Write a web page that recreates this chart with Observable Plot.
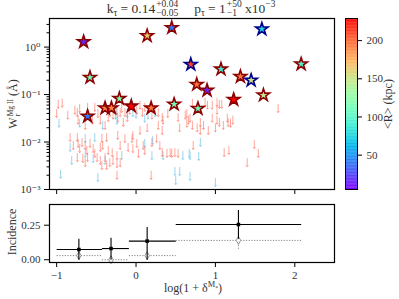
<!DOCTYPE html>
<html><head><meta charset="utf-8">
<script src="https://cdn.jsdelivr.net/npm/d3@7"></script>
<script src="https://cdn.jsdelivr.net/npm/@observablehq/plot@0.6"></script>
<style>
body{margin:0;background:#fff;}
#wrap{position:relative;width:399px;height:299px;overflow:hidden;font-family:"Liberation Serif","DejaVu Serif",serif;color:#333;}
.abs{position:absolute;}
.ss{display:inline-flex;flex-direction:column;font-size:9.5px;line-height:0.95;vertical-align:middle;margin-left:1px;}
.rot{transform:translate(-50%,-50%) rotate(-90deg);white-space:nowrap;}
sup,sub{font-size:70%;}
</style></head>
<body><div id="wrap">
<div class="abs" style="left:191px;top:-1px;transform:translateX(-50%);white-space:nowrap;font-size:13.5px;">k<sub>τ</sub> = 0.14<span class="ss"><span>+0.04</span><span>−0.05</span></span><span style="display:inline-block;width:16px"></span>p<sub>τ</sub> = 1<span class="ss"><span>+50</span><span>−1</span></span> x10<sup>−3</sup></div>
<div class="abs rot" style="left:14px;top:104px;font-size:12px;">W<span class="ss" style="font-size:7.5px"><span>Mg II</span><span>r</span></span> (Å)</div>
<div class="abs rot" style="left:12px;top:232px;font-size:12px;">Incidence</div>
<div class="abs rot" style="left:388px;top:104px;font-size:12px;">&lt;R&gt; (kpc)</div>
<div class="abs" style="left:193px;top:280px;transform:translateX(-50%);white-space:nowrap;font-size:12px;">log(1 + δ<sup>M<sub>*</sub></sup>)</div>
</div>
<script>
// detections (stars)
const starX = [-0.66, 0.14, 0.45, 0.69, 1.585, 1.07, 2.08, 1.315, 1.45, 0.765, 0.895, 1.23, 1.605, -0.58, -0.21, -0.39, -0.31, -0.06, 0.19, 0.48, -0.61, 0.78];
const starW = [1.29, 1.73, 2.56, 0.43, 2.40, 0.343, 0.44, 0.24, 0.20, 0.163, 0.123, 0.0785, 0.097, 0.229, 0.082, 0.052, 0.052, 0.057, 0.052, 0.0625, 0.0348, 0.0507];
const starR = [15, 165, 40, 210, 75, 90, 95, 195, 150, 195, 15, 228, 145, 110, 115, 190, 190, 228, 195, 110, 40, 110];
const starGroup = ["a","a","a","b","b","a","a","a","b","a","a","a","a","a","a","a","a","a","a","a","a","a"];
// upper limits, red sample
const redX = [-0.98,-0.93,-1.00,-0.86,-0.77,-0.74,-0.71,-0.61,-0.52,-0.55,-0.48,-0.45,-0.24,-0.20,-0.18,-0.14,0.01,0.05,0.08,0.11,0.20,0.28,0.33,0.34,0.40,0.53,0.55,0.62,0.66,-0.73,-0.64,-0.39,-0.16,0.05,-0.04,0.14,0.28,0.33,-0.33,-0.29,-0.11,-0.08,-0.23,-0.35,
 -0.83,-0.74,-0.73,-0.68,-0.79,-0.71,-0.64,-0.58,-0.62,-0.54,-0.52,-0.43,-0.42,-0.45,-0.37,-0.35,-0.30,-0.24,-0.23,-0.20,-0.14,-0.10,-0.05,-0.04,0.01,0.03,0.09,0.11,0.20,0.26,0.30,0.33,0.39,0.43,0.45,0.49,0.53,-0.74,-0.67,-0.64,-0.61,-0.49,-0.45,-0.39,-0.33,-0.29,-0.24,-0.20,-0.43,-0.37,-0.24,0.19,
 0.71,0.77,0.87,0.90,0.96,1.02,1.05,1.08,1.02,0.64,0.68,0.64,0.71,0.77,0.81,0.81,0.85,0.91,0.96,1.00,1.02,1.05,1.10,1.15,1.16,1.19,1.22,1.79,0.72,1.11,1.17,1.49,1.54,1.40];
const redW = [0.0625,0.066,0.040,0.037,0.047,0.042,0.051,0.054,0.054,0.029,0.040,0.029,0.047,0.042,0.051,0.042,0.047,0.060,0.042,0.054,0.037,0.042,0.033,0.029,0.040,0.033,0.020,0.037,0.029,0.029,0.0225,0.0225,0.026,0.0176,0.0138,0.020,0.0225,0.0176,0.042,0.037,0.033,0.047,0.032,0.033,
 0.0125,0.0125,0.0094,0.0098,0.0085,0.0073,0.0085,0.0094,0.0067,0.0073,0.0058,0.0119,0.0085,0.0077,0.0125,0.0067,0.0060,0.0052,0.0138,0.0085,0.0119,0.0077,0.0119,0.0073,0.0094,0.0058,0.0085,0.0067,0.0098,0.0119,0.0085,0.0060,0.0058,0.0060,0.0058,0.0060,0.0058,0.0047,0.0045,0.0037,0.0047,0.0047,0.0041,0.0047,0.0037,0.0041,0.0035,0.0037,0.0032,0.0032,0.0020,0.0020,
 0.066,0.054,0.069,0.060,0.060,0.069,0.0625,0.0625,0.047,0.040,0.032,0.025,0.0225,0.020,0.026,0.0176,0.0225,0.0176,0.032,0.020,0.029,0.026,0.0225,0.032,0.026,0.025,0.029,0.051,0.0085,0.0060,0.0067,0.0089,0.0058,0.0037];
// upper limits, blue sample
const blueX = [-0.97,-0.71,-0.42,-0.26,-0.24,-0.25,-0.11,-0.04,0.00,0.11,0.15,0.24,-0.83,-0.64,-0.52,-0.64,-0.81,-0.54,-0.39,-0.18,0.11,0.20,0.21,0.34,0.59,0.68,-0.95,-0.48,0.49,0.55,0.50,0.81,0.67,0.79,0.68,1.00];
const blueW = [0.025,0.025,0.0225,0.037,0.029,0.047,0.040,0.042,0.039,0.032,0.037,0.042,0.0077,0.0119,0.0125,0.0058,0.0041,0.0045,0.0041,0.0052,0.0094,0.0052,0.0108,0.0052,0.0052,0.0052,0.0021,0.0018,0.0024,0.0024,0.00155,0.0098,0.0058,0.0050,0.0019,0.0014];
// incidence panel
const incX = [-0.72, -0.315, 0.14, 1.29];
const incXlo = [-1.0, -0.43, -0.09, 0.5];
const incXhi = [-0.43, -0.09, 0.5, 2.08];
const incY = [0.074, 0.081, 0.135, 0.255];
const incYlo = [0.0, 0.0, 0.0, 0.152];
const incYhi = [0.152, 0.16, 0.237, 0.36];
const grayY = [0.03, 0.0, 0.03, 0.14];
const grayYlo = [0.007, 0.0, 0.007, 0.079];
const grayYhi = [0.05, 0.0, 0.05, 0.18];
// ticks
const xTicks = [-1, 0, 1, 2];
const xTickLabels = ["−1", "0", "1", "2"];
const yTicks = [1e-3, 1e-2, 1e-1, 1];
const yTickLabels = ["10⁻³", "10⁻²", "10⁻¹", "10⁰"];
const cbTicks = [50, 100, 150, 200];
const incTicks = [0, 0.25];

const rainbow = t => {
  const r = Math.min(1, Math.abs(2*t - 0.5)), g = Math.sin(Math.PI*t), b = Math.cos(Math.PI*t/2);
  return d3.rgb(255*r, 255*Math.max(0,g), 255*Math.max(0,b)).formatHex();
};
const cdom = [5, 229];
const font = "'Liberation Serif','DejaVu Serif',serif";
const stars = starX.map((x,i)=>({x, w:starW[i], R:starR[i], g:starGroup[i]}));
const reds = redX.map((x,i)=>({x, w:redW[i]}));
const blues = blueX.map((x,i)=>({x, w:blueW[i]}));
const minor = [];
for (const d of [1e-3,1e-2,1e-1,1]) for (let k=2;k<=9;k++) if (d*k<4) minor.push(d*k);

const style = {fontFamily: font, fontSize: "11px", color: "#333", background: "transparent", overflow: "visible"};
const topPlot = Plot.plot({
  width: 340, height: 200, marginLeft: 49, marginRight: 6, marginTop: 18, marginBottom: 11,
  style,
  x: {domain: [-1.09, 2.5]},
  y: {type: "log", domain: [1e-3, 4]},
  color: {type: "linear", domain: cdom, interpolate: rainbow},
  marks: [
    Plot.axisX({ticks: xTicks, tickFormat: () => "", tickSize: 5, label: null, stroke: "black"}),
    Plot.axisY({ticks: yTicks, tickFormat: d => yTickLabels[yTicks.indexOf(d)], tickSize: 5, label: null, stroke: "black", fontSize: 11}),
    Plot.axisY({ticks: minor, tickFormat: () => "", tickSize: 2.5, label: null, stroke: "black"}),
    Plot.vector(blues, {x: "x", y: "w", rotate: 180, length: 8, anchor: "middle", r: 2.2, stroke: "#87ceeb", strokeOpacity: 0.85, strokeWidth: 1}),
    Plot.vector(reds, {x: "x", y: "w", rotate: 180, length: 8, anchor: "middle", r: 2.2, stroke: "#ff6a5a", strokeOpacity: 0.6, strokeWidth: 1}),
    Plot.dot(stars.filter(d=>d.g==="a"), {x: "x", y: "w", fill: "R", stroke: "#8b0000", symbol: "star", r: 3.9, strokeWidth: 1.6}),
    Plot.dot(stars.filter(d=>d.g==="b"), {x: "x", y: "w", fill: "R", stroke: "#00008b", symbol: "star", r: 3.9, strokeWidth: 1.6}),
    Plot.frame({stroke: "black", strokeWidth: 1.2})
  ]
});
topPlot.style.position = "absolute"; topPlot.style.left = "0px"; topPlot.style.top = "0px";

const cbVals = d3.range(cdom[0], cdom[1], 1);
const cb = Plot.plot({
  width: 54, height: 200, marginLeft: 0, marginRight: 42, marginTop: 18, marginBottom: 11,
  style,
  x: {domain: [0, 1], axis: null},
  y: {domain: cdom},
  color: {type: "linear", domain: cdom, interpolate: rainbow},
  marks: [
    Plot.rect(cbVals, {x1: 0, x2: 1, y1: d => d, y2: d => Math.min(cdom[1], d + 1.3), fill: d => d + 0.5}),
    Plot.axisY({anchor: "right", ticks: cbTicks, tickSize: 4, label: null, stroke: "black", fontSize: 11}),
    Plot.frame({stroke: "black", strokeWidth: 1})
  ]
});
cb.style.position = "absolute"; cb.style.left = "345px"; cb.style.top = "0px";

const inc = incX.map((x,i)=>({x, lo: incXlo[i], hi: incXhi[i], y: incY[i], ylo: incYlo[i], yhi: incYhi[i], g: grayY[i], glo: grayYlo[i], ghi: grayYhi[i]}));
const bot = Plot.plot({
  width: 340, height: 104, marginLeft: 49, marginRight: 6, marginTop: 9, marginBottom: 37,
  style,
  x: {domain: [-1.09, 2.5]},
  y: {domain: [-0.02, 0.40]},
  marks: [
    Plot.axisX({ticks: xTicks, tickFormat: d => xTickLabels[xTicks.indexOf(d)], tickSize: 5, label: null, stroke: "black", fontSize: 11}),
    Plot.axisY({ticks: incTicks, tickFormat: ".2f", tickSize: 5, label: null, stroke: "black", fontSize: 11}),
    Plot.link(inc, {x1: "lo", x2: "hi", y1: "g", y2: "g", stroke: "#777", strokeWidth: 0.9, strokeDasharray: "1.2,1.5"}),
    Plot.link(inc, {x1: "x", x2: "x", y1: "glo", y2: "ghi", stroke: "#777", strokeWidth: 0.9, strokeDasharray: "1.2,1.5"}),
    Plot.dot(inc, {x: "x", y: "g", symbol: "diamond", r: 2.4, fill: "white", stroke: "#888", strokeWidth: 0.9}),
    Plot.link(inc, {x1: "lo", x2: "hi", y1: "y", y2: "y", stroke: "black", strokeWidth: 1.1}),
    Plot.link(inc, {x1: "x", x2: "x", y1: "ylo", y2: "yhi", stroke: "black", strokeWidth: 1.1}),
    Plot.dot(inc, {x: "x", y: "y", symbol: "square", r: 2.0, fill: "black"}),
    Plot.frame({stroke: "black", strokeWidth: 1.2})
  ]
});
bot.style.position = "absolute"; bot.style.left = "0px"; bot.style.top = "195px";

const wrap = document.getElementById("wrap");
wrap.appendChild(topPlot); wrap.appendChild(cb); wrap.appendChild(bot);
</script>
</body></html>
